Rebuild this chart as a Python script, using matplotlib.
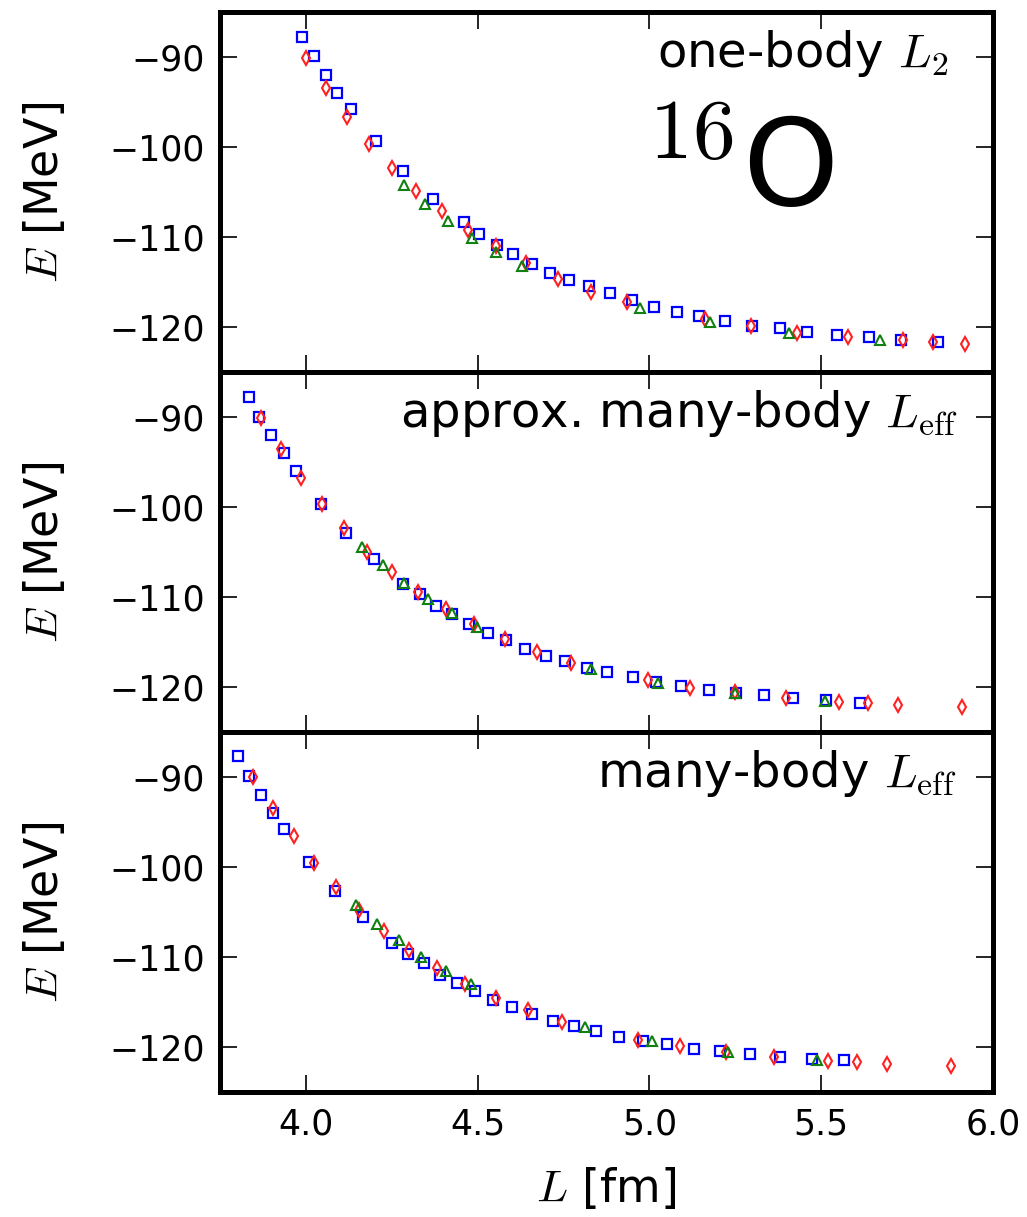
import matplotlib
matplotlib.use("Agg")
import matplotlib.pyplot as plt

plt.rcParams['mathtext.fontset'] = 'cm'
plt.rcParams['font.family'] = ['DejaVu Sans']

# ---- panel 1: one-body L2 ----
L_sq_1 = [3.990, 4.024, 4.058, 4.090, 4.131, 4.205, 4.284, 4.371, 4.459, 4.504,
          4.555, 4.604, 4.659, 4.712, 4.765, 4.825, 4.884, 4.948, 5.012, 5.079,
          5.144, 5.219, 5.298, 5.380, 5.460, 5.546, 5.639, 5.733, 5.841]
E_sq_1 = [-87.74, -89.86, -91.93, -93.97, -95.75, -99.34, -102.68, -105.72, -108.32, -109.61,
          -110.88, -111.91, -112.95, -113.95, -114.73, -115.47, -116.23, -117.03, -117.78, -118.29,
          -118.81, -119.33, -119.85, -120.11, -120.59, -120.89, -121.15, -121.40, -121.63]
L_di_1 = [4.000, 4.060, 4.120, 4.184, 4.251, 4.321, 4.395, 4.472, 4.553, 4.640,
          4.734, 4.830, 4.935, 5.163, 5.296, 5.429, 5.577, 5.738, 5.825, 5.918]
E_di_1 = [-90.07, -93.48, -96.64, -99.60, -102.31, -104.87, -107.13, -109.24, -110.99, -112.88,
          -114.62, -116.06, -117.22, -119.07, -119.89, -120.63, -121.11, -121.48, -121.67, -121.85]
L_tr_1 = [4.286, 4.348, 4.414, 4.483, 4.553, 4.630, 4.973, 5.175, 5.406, 5.670]
E_tr_1 = [-104.24, -106.32, -108.17, -110.13, -111.62, -113.17, -117.85, -119.44, -120.63, -121.44]

# ---- panel 2: approx. many-body Leff ----
L_sq_2 = [3.834, 3.865, 3.898, 3.935, 3.971, 4.043, 4.117, 4.197, 4.284, 4.331,
          4.379, 4.425, 4.476, 4.529, 4.583, 4.638, 4.698, 4.755, 4.818, 4.877,
          4.952, 5.019, 5.092, 5.172, 5.251, 5.332, 5.419, 5.514, 5.614]
E_sq_2 = [-87.77, -90.00, -92.04, -93.97, -96.02, -99.62, -102.89, -105.79, -108.50, -109.69,
          -110.96, -111.88, -113.00, -114.00, -114.78, -115.82, -116.57, -117.09, -117.83, -118.38,
          -118.87, -119.43, -119.91, -120.28, -120.66, -120.91, -121.21, -121.47, -121.73]
L_di_2 = [3.869, 3.927, 3.985, 4.046, 4.112, 4.179, 4.251, 4.326, 4.407, 4.489,
          4.579, 4.672, 4.772, 4.996, 5.118, 5.250, 5.397, 5.551, 5.636, 5.723, 5.910]
E_di_2 = [-90.11, -93.49, -96.76, -99.65, -102.33, -104.97, -107.24, -109.43, -111.33, -113.00,
          -114.70, -116.08, -117.31, -119.24, -120.06, -120.55, -121.21, -121.66, -121.77, -121.95, -122.22]
L_tr_2 = [4.162, 4.224, 4.286, 4.355, 4.425, 4.497, 4.830, 5.026, 5.250, 5.511]
E_tr_2 = [-104.38, -106.46, -108.39, -110.25, -111.81, -113.30, -117.98, -119.50, -120.66, -121.55]

# ---- panel 3: many-body Leff ----
L_sq_3 = [3.803, 3.834, 3.870, 3.904, 3.936, 4.009, 4.084, 4.165, 4.251, 4.297,
          4.344, 4.391, 4.441, 4.491, 4.546, 4.601, 4.659, 4.718, 4.779, 4.845,
          4.912, 4.980, 5.052, 5.129, 5.205, 5.294, 5.380, 5.472, 5.567]
E_sq_3 = [-87.70, -89.93, -91.94, -93.98, -95.80, -99.41, -102.71, -105.54, -108.39, -109.66,
          -110.70, -112.00, -112.90, -113.79, -114.83, -115.57, -116.35, -117.13, -117.61, -118.25,
          -118.92, -119.36, -119.65, -120.26, -120.48, -120.74, -121.10, -121.29, -121.48]
L_di_3 = [3.846, 3.904, 3.964, 4.025, 4.089, 4.156, 4.226, 4.301, 4.382, 4.464,
          4.552, 4.647, 4.746, 4.968, 5.089, 5.224, 5.363, 5.521, 5.603, 5.691, 5.877]
E_di_3 = [-90.00, -93.42, -96.58, -99.52, -102.19, -104.72, -107.13, -109.18, -111.22, -112.97,
          -114.53, -115.94, -117.21, -119.18, -119.92, -120.55, -121.10, -121.55, -121.66, -121.85, -122.11]
L_tr_3 = [4.147, 4.207, 4.272, 4.336, 4.408, 4.481, 4.813, 5.007, 5.229, 5.487]
E_tr_3 = [-104.27, -106.28, -108.06, -109.96, -111.59, -113.01, -117.80, -119.36, -120.55, -121.41]

panel_labels = [r'one-body $L_2$', r'approx. many-body $L_{\rm eff}$', r'many-body $L_{\rm eff}$']
label_x = [0.942, 0.955, 0.953]
xticks = [4.0, 4.5, 5.0, 5.5, 6.0]
yticks = [-120, -110, -100, -90]

panels = [(L_sq_1, E_sq_1, L_di_1, E_di_1, L_tr_1, E_tr_1),
          (L_sq_2, E_sq_2, L_di_2, E_di_2, L_tr_2, E_tr_2),
          (L_sq_3, E_sq_3, L_di_3, E_di_3, L_tr_3, E_tr_3)]

fig, axes = plt.subplots(3, 1, figsize=(10.27, 12.17), dpi=100, sharex=True)
plt.subplots_adjust(left=0.2142, right=0.9669, bottom=0.1027, top=0.990, hspace=0)

for i, ax in enumerate(axes):
    Ls, Es, Ld, Ed, Lt, Et = panels[i]
    ax.plot(Ls, Es, 's', mfc='none', mec='#0000ff', mew=1.6, ms=6.5)
    ax.plot(Ld, Ed, 'd', mfc='none', mec='#ff2020', mew=1.5, ms=7.5)
    ax.plot(Lt, Et, '^', mfc='none', mec='#108010', mew=1.5, ms=6.5)

    ax.set_xlim(3.75, 6.0)
    ax.set_ylim(-125, -85)
    ax.set_xticks(xticks)
    ax.set_yticks(yticks)
    for sp in ax.spines.values():
        sp.set_linewidth(3.6)
    ax.tick_params(direction='in', length=12, width=1.2, top=True, right=True,
                   labelsize=25, pad=11)
    ax.set_ylabel(r'$E$ [MeV]', fontsize=33)
    ax.yaxis.set_label_coords(-0.197, 0.5)
    ax.text(label_x[i], 0.955, panel_labels[i], transform=ax.transAxes,
            ha='right', va='top', fontsize=34.7)

# nucleus tag in the top panel
axes[0].text(0.548, 0.462, r'$^{16}$O', transform=axes[0].transAxes,
             ha='left', va='baseline', fontsize=88)

axes[2].set_xticklabels(['4.0', '4.5', '5.0', '5.5', '6.0'])
axes[2].set_xlabel(r'$L$ [fm]', fontsize=33, labelpad=18)

fig.savefig('out.png', dpi=100)
